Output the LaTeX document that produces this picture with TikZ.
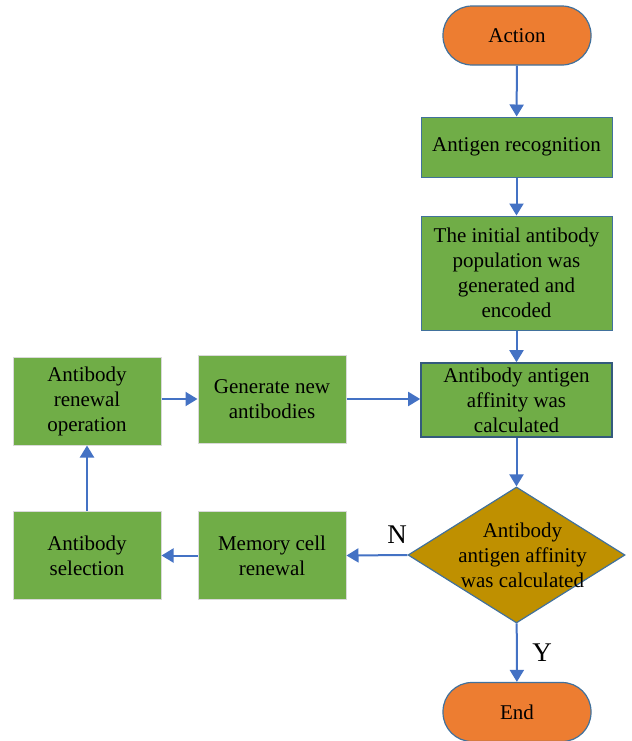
\documentclass[tikz,border=0pt]{standalone}
\usepackage{fontspec}
\setmainfont{Liberation Serif}
\usepackage{tikz}
\usetikzlibrary{shapes.geometric,arrows.meta,positioning}
\definecolor{termcolor}{HTML}{ED7D31}
\definecolor{stepcolor}{HTML}{70AD47}
\definecolor{deccolor}{HTML}{BF9000}
\definecolor{arrcolor}{HTML}{4472C4}
\definecolor{edgecolor}{HTML}{41719C}

\begin{document}
\begin{tikzpicture}[
  x=0.5pt, y=-0.5pt,
  term/.style={draw=edgecolor, fill=termcolor, rounded corners=14.5pt,
               minimum width=74pt, minimum height=29.5pt, line width=0.6pt,
               font=\fontsize{10.5}{12.5}\selectfont},
  box/.style={draw=edgecolor, fill=stepcolor, minimum width=95.5pt,
              align=center, inner sep=1pt, line width=0.5pt,
              font=\fontsize{10.5}{12.5}\selectfont},
  sbox/.style={box, draw=gray!30, minimum width=74pt, minimum height=44pt},
  dec/.style={draw=edgecolor, fill=deccolor, diamond, inner sep=0pt,
              minimum width=108.5pt, minimum height=68pt, line width=0.6pt},
  lbl/.style={font=\fontsize{13.5}{15}\selectfont, text=black},
  arr/.style={-{Triangle[length=6pt, width=7pt]}, arrcolor, line width=1pt},
]
  \useasboundingbox (0,0) rectangle (632,741);

  % ── Main column ─────────────────
  \node[term] (act) at (517,35.5) {Action};
  \node[box, minimum height=30pt] (rec) at (516.5,147) {Antigen recognition};
  \node[box, minimum height=57pt] (init) at (516.5,273)
        {The initial antibody\\population was\\generated and\\encoded};
  \node[box, draw=edgecolor!80!black, line width=0.8pt, minimum height=37pt]
        (aff) at (516.5,400) {Antibody antigen\\affinity was\\calculated};
  \node[dec] (dec) at (516.5,555) {};
  \node[font=\fontsize{10.5}{12.5}\selectfont, align=center]
        at ([xshift=3pt]dec.center) {Antibody\\antigen affinity\\was calculated};
  \node[term] (end) at (517,712) {End};

  % ── Left loop ───────────────────
  \node[sbox] (upd) at (87,401) {Antibody\\renewal\\operation};
  \node[sbox] (gen) at (272,399) {Generate new\\antibodies};
  \node[sbox] (sel) at (87,555.5) {Antibody\\selection};
  \node[sbox] (mem) at (272,555.5) {Memory cell\\renewal};

  % ── Arrows ──────────────────────
  \draw[arr] (act) -- (rec);
  \draw[arr] (rec) -- (init);
  \draw[arr] (init) -- (aff);
  \draw[arr] (aff) -- (dec);
  \draw[arr] (dec) -- node[lbl, right=4pt, pos=0.5] {Y} (end);
  \draw[arr] (dec.west) -- node[lbl, above=2pt, pos=0.17] {N} (mem.east);
  \draw[arr] (mem) -- (sel);
  \draw[arr] (sel) -- (upd);
  \draw[arr] (upd.east |- gen.east) -- (gen);
  \draw[arr] (gen.east) -- (gen.east -| aff.west);
\end{tikzpicture}
\end{document}
